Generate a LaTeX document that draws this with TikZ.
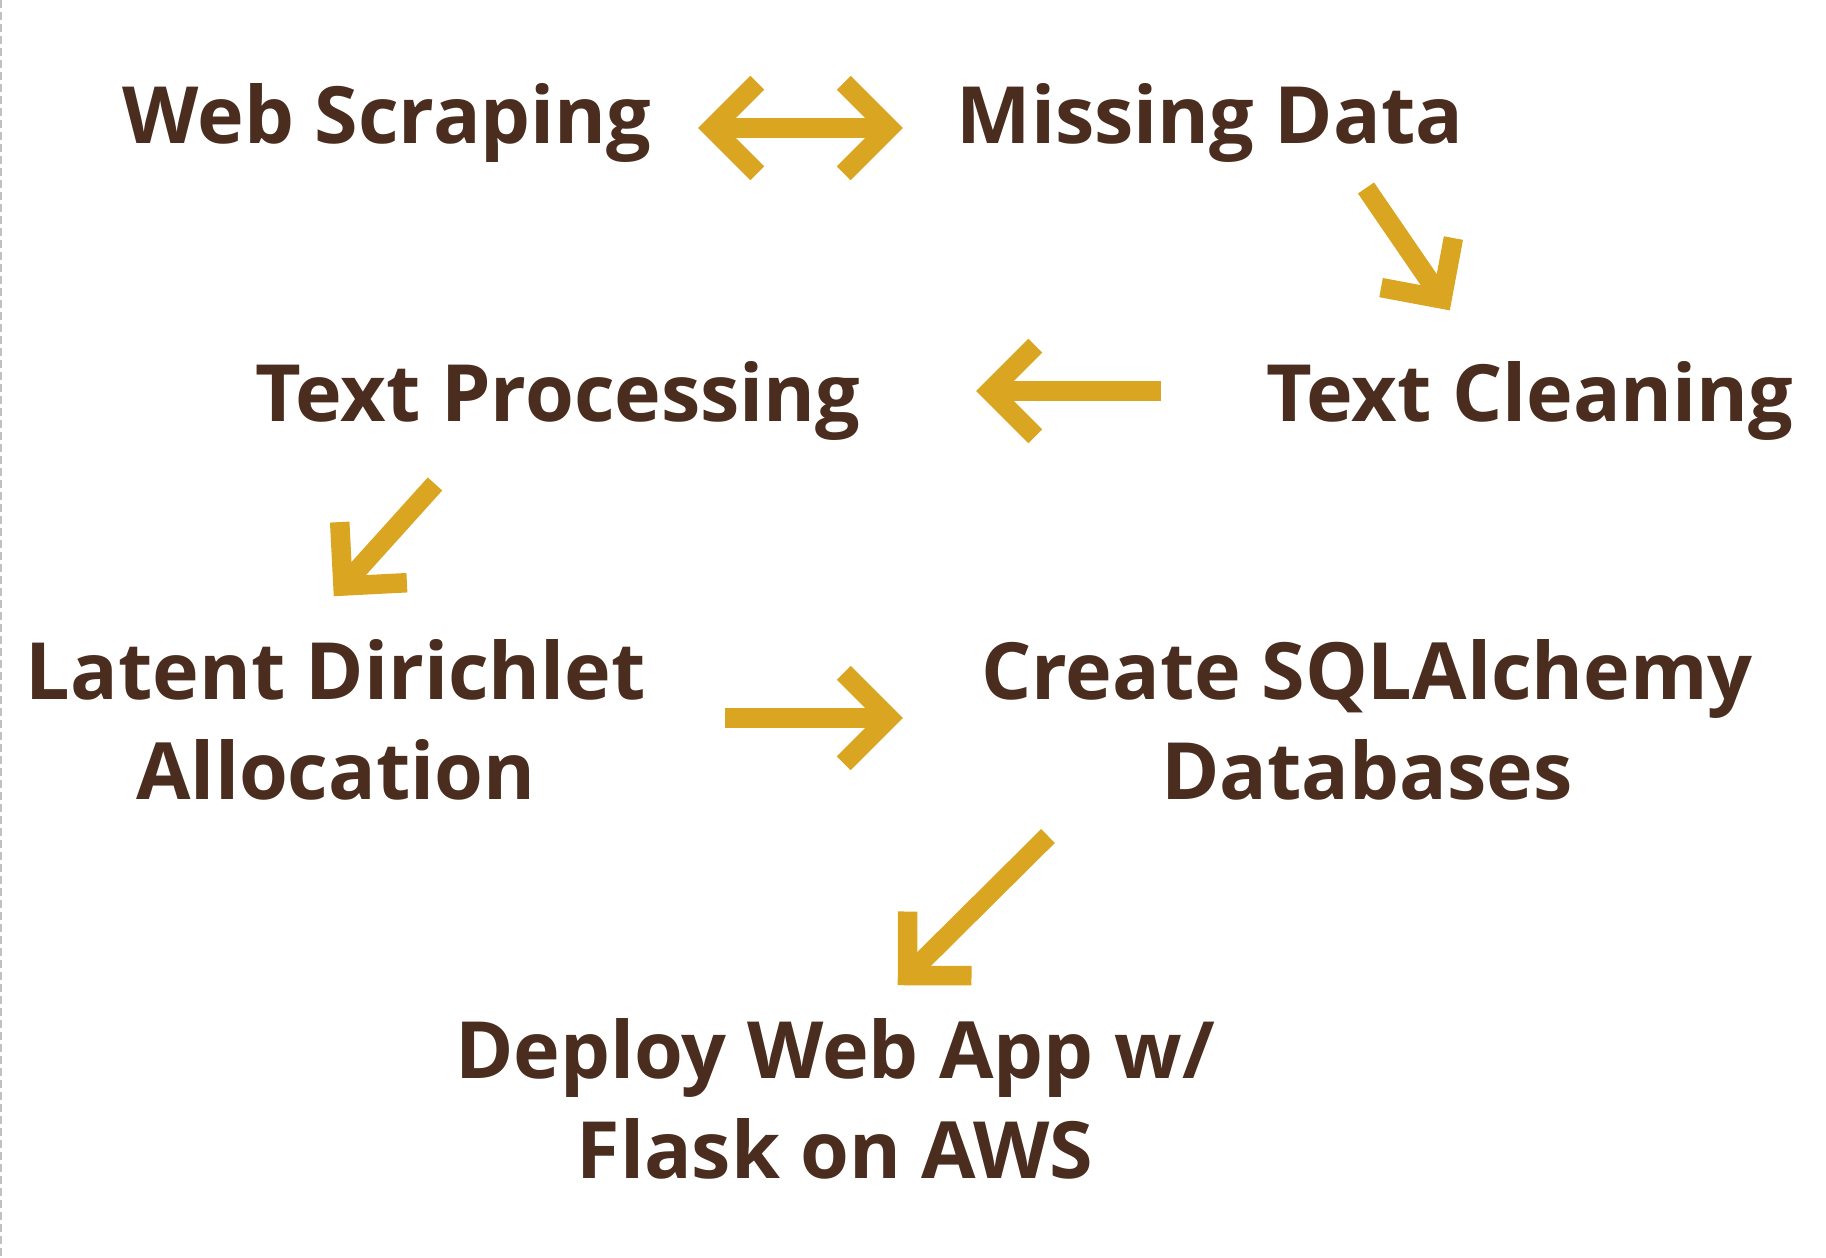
\documentclass[tikz,border=0pt]{standalone}
\usepackage{fontspec}
\setmainfont{Open Sans}
\usetikzlibrary{calc}
\definecolor{txtbrown}{RGB}{74,45,30}
\definecolor{gold}{RGB}{218,166,34}
\definecolor{edgegray}{RGB}{192,192,192}
\tikzset{
  label/.style={inner sep=0pt, anchor=base, align=center, text=txtbrown,
    font=\fontsize{79}{100}\selectfont\bfseries},
  arr/.style={draw=gold, line width=19.5pt, line cap=butt, line join=miter, miter limit=10},
}
\newcommand\chevron[3]{\draw[arr] ($(#1)!#3!45:(#2)$) -- (#1) -- ($(#1)!#3!-45:(#2)$);}
\begin{document}
\begin{tikzpicture}[x=1pt,y=-1pt]
\useasboundingbox (0,0) rectangle (1826,1258);
\draw[edgegray, line width=2.2pt, dash pattern=on 8pt off 4pt] (1,0) -- (1,1258);

\node[label] (web) at (387,143) {Web Scraping};
\node[label] (miss) at (1210,143) {Missing Data};
\node[label] (proc) at (558,421) {Text Processing};
\node[label] (clean) at (1530,421) {Text Cleaning};
\node[label] (lda) at (336,799) {Latent Dirichlet\\Allocation};
\node[label] (sql) at (1367,799) {Create SQLAlchemy\\Databases};
\node[label] (deploy) at (835,1178) {Deploy Web App w/\\Flask on AWS};

% double arrow web <-> missing
\coordinate (a1l) at (712,128);
\coordinate (a1r) at (889,128);
\draw[arr] (a1l) -- (a1r);
\chevron{a1l}{a1r}{64pt}
\chevron{a1r}{a1l}{64pt}

% missing -> cleaning
\coordinate (a2t) at (1366,188);
\coordinate (a2h) at (1442,299);
\draw[arr] (a2t) -- (a2h);
\chevron{a2h}{a2t}{62pt}

% cleaning -> processing
\coordinate (a3t) at (1161,391);
\coordinate (a3h) at (990,391);
\draw[arr] (a3t) -- (a3h);
\chevron{a3h}{a3t}{64pt}

% processing -> lda
\coordinate (a4t) at (435,484);
\coordinate (a4h) at (343,586);
\draw[arr] (a4t) -- (a4h);
\chevron{a4h}{a4t}{64pt}

% lda -> sql
\coordinate (a5t) at (725,718);
\coordinate (a5h) at (889,718);
\draw[arr] (a5t) -- (a5h);
\chevron{a5h}{a5t}{64pt}

% sql -> deploy
\coordinate (a6t) at (1048,836);
\coordinate (a6h) at (907.5,975.5);
\draw[arr] (a6t) -- (a6h);
\chevron{a6h}{a6t}{64pt}
\end{tikzpicture}
\end{document}
